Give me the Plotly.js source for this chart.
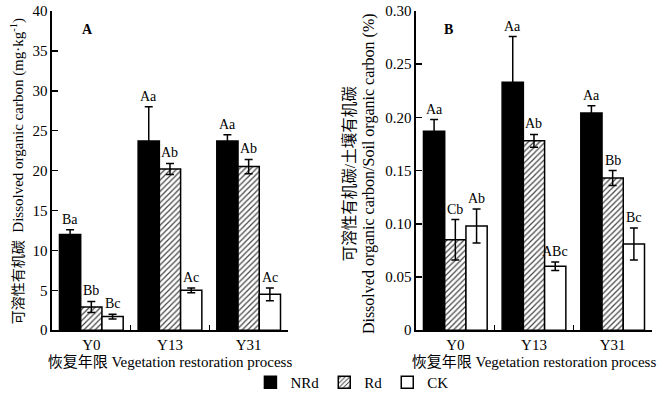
<!DOCTYPE html>
<html>
<head>
<meta charset="utf-8">
<script src="https://cdn.plot.ly/plotly-3.0.1.min.js"></script>
<style>html,body{margin:0;padding:0;background:#fff;}#chart{width:664px;height:399px;}</style>
</head>
<body>
<div id="chart"></div>
<script>
// ---- data ----
const categories = ['Y0', 'Y13', 'Y31'];
const seriesNames = ['NRd', 'Rd', 'CK'];

// Panel A: dissolved organic carbon (mg·kg-1)
const nrdA = [12.0, 23.7, 23.7];
const nrdAErr = [0.6, 4.3, 0.8];
const rdA = [2.9, 20.2, 20.5];
const rdAErr = [0.7, 0.7, 0.9];
const ckA = [1.7, 5.0, 4.5];
const ckAErr = [0.3, 0.3, 0.8];
const nrdALabels = ['Ba', 'Aa', 'Aa'];
const rdALabels = ['Bb', 'Ab', 'Ab'];
const ckALabels = ['Bc', 'Ac', 'Ac'];

// Panel B: DOC / SOC (%)
const nrdB = [0.187, 0.233, 0.204];
const nrdBErr = [0.011, 0.043, 0.007];
const rdB = [0.085, 0.178, 0.143];
const rdBErr = [0.019, 0.006, 0.007];
const ckB = [0.098, 0.060, 0.081];
const ckBErr = [0.016, 0.004, 0.015];
const nrdBLabels = ['Aa', 'Aa', 'Aa'];
const rdBLabels = ['Cb', 'Ab', 'Bb'];
const ckBLabels = ['Ab', 'ABc', 'Bc'];

const yTicksA = [0, 5, 10, 15, 20, 25, 30, 35, 40];
const yTicksB = [0, 0.05, 0.10, 0.15, 0.20, 0.25, 0.30];
const yTickTextB = ['0', '0.05', '0.10', '0.15', '0.20', '0.25', '0.30'];

const xTitle = '恢复年限 Vegetation restoration process';
const yTitleA = '<span style="font-size:14px">可溶性有机碳</span>  Dissolved organic carbon (mg·kg<sup>-1</sup>)';
const yTitleB1 = '可溶性有机碳/土壤有机碳';
const yTitleB2 = 'Dissolved organic carbon/Soil organic carbon (%)';

// ---- styles ----
const FONT = '"Liberation Serif", "Times New Roman", "Noto Sans CJK SC", serif';
const styles = [
  {color: '#000', line: {color: '#000', width: 1.5}},
  {color: '#fff', line: {color: '#000', width: 1.5},
   pattern: {shape: '/', fgcolor: '#444', bgcolor: '#fff', size: 4, solidity: 0.3}},
  {color: '#fff', line: {color: '#000', width: 1.5}}
];
const BARGAP = 0.19;
const barW = (1 - BARGAP) / 3;

function makeTraces(vals, errs, xa, ya, showLegend) {
  return vals.map((v, i) => ({
    type: 'bar', x: categories, y: v, name: seriesNames[i],
    legendgroup: seriesNames[i], showlegend: showLegend,
    xaxis: xa, yaxis: ya,
    marker: styles[i],
    error_y: {type: 'data', array: errs[i], visible: true, color: '#000', thickness: 1.5, width: 4},
    hoverinfo: 'skip'
  }));
}

const traces = [
  ...makeTraces([nrdA, rdA, ckA], [nrdAErr, rdAErr, ckAErr], 'x', 'y', true),
  ...makeTraces([nrdB, rdB, ckB], [nrdBErr, rdBErr, ckBErr], 'x2', 'y2', false)
];

function labelAnns(vals, errs, labels, xref, yref) {
  const out = [];
  vals.forEach((v, s) => {
    v.forEach((val, c) => {
      out.push({
        xref: xref, yref: yref, x: c + (s - 1) * barW, y: val + errs[s][c],
        text: labels[s][c], showarrow: false, xanchor: 'center', yanchor: 'bottom', yshift: 1,
        font: {size: 14, family: FONT, color: '#000'}
      });
    });
  });
  return out;
}

const annotations = [
  ...labelAnns([nrdA, rdA, ckA], [nrdAErr, rdAErr, ckAErr], [nrdALabels, rdALabels, ckALabels], 'x', 'y'),
  ...labelAnns([nrdB, rdB, ckB], [nrdBErr, rdBErr, ckBErr], [nrdBLabels, rdBLabels, ckBLabels], 'x2', 'y2'),
  {xref: 'paper', yref: 'paper', x: 0.1325, y: 0.925, xanchor: 'center', yanchor: 'middle', text: '<b>A</b>', showarrow: false, font: {size: 14, family: FONT}},
  {xref: 'paper', yref: 'paper', x: 0.6747, y: 0.925, xanchor: 'center', yanchor: 'middle', text: '<b>B</b>', showarrow: false, font: {size: 14, family: FONT}},
  {xref: 'paper', yref: 'paper', x: 0.0256, y: 0.57, xanchor: 'center', yanchor: 'middle', text: yTitleA, textangle: -90, showarrow: false, font: {size: 15, family: FONT}},
  {xref: 'paper', yref: 'paper', x: 0.5256, y: 0.565, xanchor: 'center', yanchor: 'middle', text: yTitleB1, textangle: -90, showarrow: false, font: {size: 15.5, family: FONT}},
  {xref: 'paper', yref: 'paper', x: 0.5557, y: 0.565, xanchor: 'center', yanchor: 'middle', text: yTitleB2, textangle: -90, showarrow: false, font: {size: 16, family: FONT}}
];

const xAxisBase = {
  type: 'category', range: [-0.5, 2.5], ticks: 'inside', tickson: 'boundaries', ticklen: 5,
  tickcolor: '#000', tickwidth: 1.5, showline: true, linecolor: '#000', linewidth: 1.5,
  showgrid: false, zeroline: false, tickfont: {size: 15, family: FONT},
  title: {text: xTitle, font: {size: 15, family: FONT}, standoff: 2}, fixedrange: true
};
const yAxisBase = {
  ticks: 'inside', ticklen: 6, tickcolor: '#000', tickwidth: 1.5, showline: true,
  linecolor: '#000', linewidth: 1.5, showgrid: false, zeroline: false,
  tickfont: {size: 15, family: FONT}, domain: [0.1704, 0.9724], fixedrange: true
};

const layout = {
  width: 664, height: 399,
  margin: {l: 0, r: 0, t: 0, b: 0},
  paper_bgcolor: '#fff', plot_bgcolor: '#fff',
  font: {family: FONT, color: '#000', size: 15},
  barmode: 'group', bargap: BARGAP, bargroupgap: 0,
  xaxis: Object.assign({}, xAxisBase, {domain: [0.0783, 0.4337], anchor: 'y'}),
  xaxis2: Object.assign({}, xAxisBase, {domain: [0.6265, 0.9819], anchor: 'y2'}),
  yaxis: Object.assign({}, yAxisBase, {range: [0, 40], tickvals: yTicksA, anchor: 'x'}),
  yaxis2: Object.assign({}, yAxisBase, {range: [0, 0.30], tickvals: yTicksB, ticktext: yTickTextB, anchor: 'x2'}),
  legend: {orientation: 'h', x: 0.53, xanchor: 'center', y: 0.04, yanchor: 'middle',
           font: {size: 15, family: FONT}, itemwidth: 30, bgcolor: 'rgba(0,0,0,0)'},
  annotations: annotations,
  showlegend: true
};

Plotly.newPlot('chart', traces, layout, {staticPlot: true, displayModeBar: false});
</script>
</body>
</html>
